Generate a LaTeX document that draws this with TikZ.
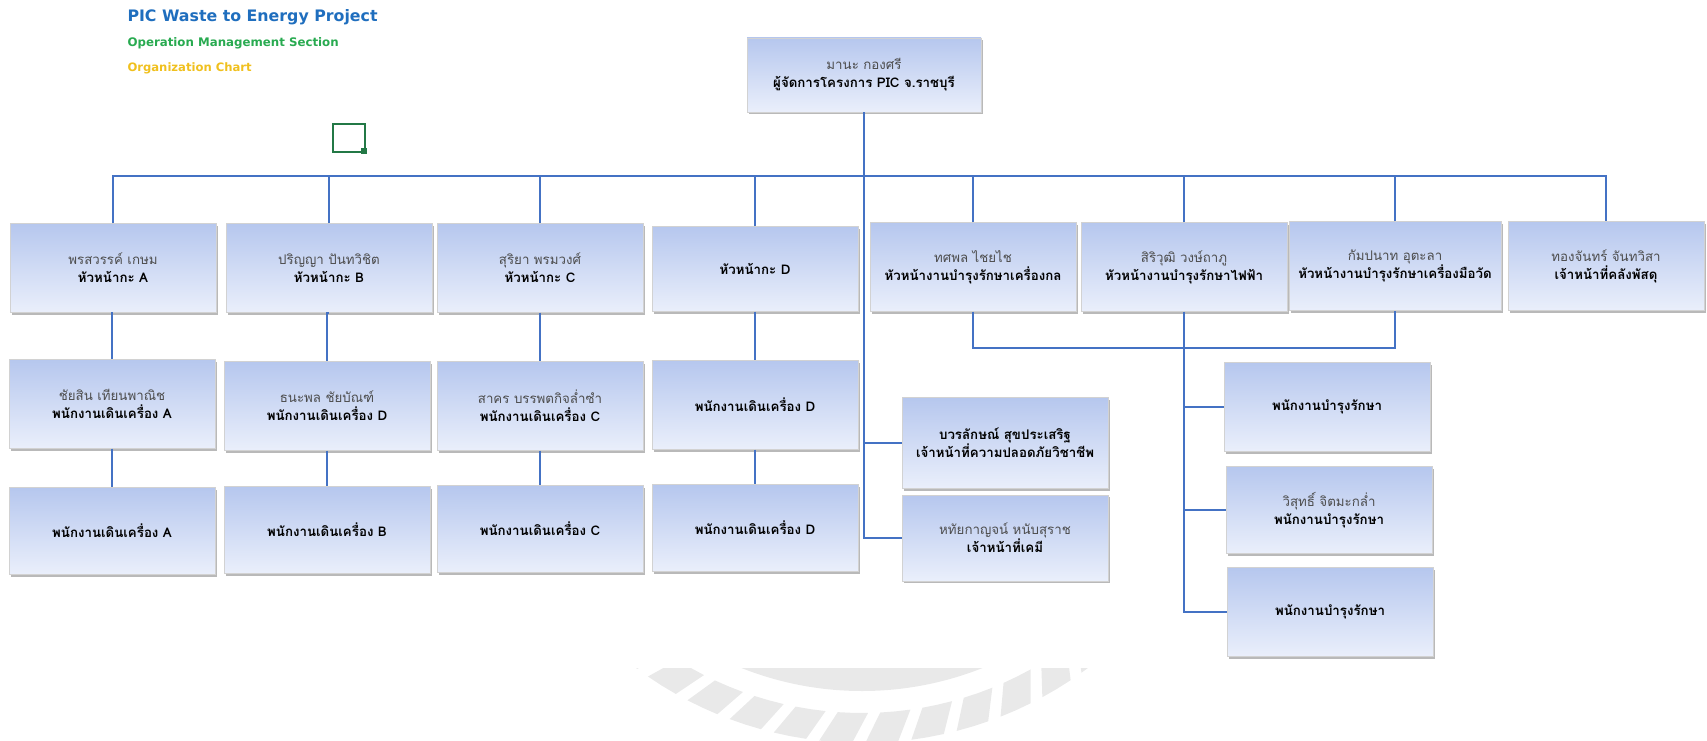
\documentclass[tikz,border=0pt]{standalone}
\usepackage{fontspec}
\setmainfont[Script=Thai]{Loma}
\newfontfamily\latinfont{DejaVu Sans}
\usetikzlibrary{shadows}
\definecolor{linkblue}{RGB}{68,114,196}
\definecolor{boxtop}{RGB}{182,199,238}
\definecolor{boxbot}{RGB}{234,239,251}
\definecolor{titleblue}{RGB}{31,110,190}
\definecolor{titlegreen}{RGB}{40,170,80}
\definecolor{titlegold}{RGB}{240,192,30}
\definecolor{markgreen}{RGB}{35,120,70}
\definecolor{wmgray}{RGB}{233,233,233}
\tikzset{
  orgbox/.style={shade, top color=boxtop, bottom color=boxbot, draw=gray!35,
    line width=0.4pt, align=center, minimum width=206pt, minimum height=89pt,
    inner sep=2pt, font=\fontsize{13.3}{18}\selectfont,
    drop shadow={shadow xshift=1.5pt, shadow yshift=-2pt, fill=gray, opacity=0.55}},
  link/.style={draw=linkblue, line width=1.6pt},
}
\newcommand{\nm}[1]{{\color{black!70}#1}}
\newcommand{\rl}[1]{{\bfseries #1}}
\begin{document}
\begin{tikzpicture}[x=1pt, y={(0pt,-1pt)}]
\useasboundingbox (0,0) rectangle (1707,741);
% watermark
\begin{scope}
  \clip (0,668) rectangle (1707,741);
  \fill[wmgray] (862,365) circle (326pt);
  \foreach \a in {51,58,...,129}{
    \fill[wmgray, shift={(862,365)}] (\a-4:348) -- (\a-1.5:348) -- (\a+1:348)
      -- (\a+3.5:378) -- (\a+1:378) -- (\a-1.5:378) -- cycle;
  }
\end{scope}
% titles
\node[anchor=west, text=titleblue, font=\latinfont\bfseries\fontsize{15.8}{18}\selectfont] (t1) at (124,17) {PIC Waste to Energy Project};
\node[anchor=west, text=titlegreen, font=\latinfont\bfseries\fontsize{11.8}{14}\selectfont] (t2) at (124,43) {Operation Management Section};
\node[anchor=west, text=titlegold, font=\latinfont\bfseries\fontsize{11.6}{14}\selectfont] (t3) at (124,68) {Organization Chart};
% small green mark
\draw[markgreen, line width=1.3pt] (333,124) rectangle (365,152);
\fill[markgreen] (361,148) rectangle (367,154);
% boxes
\node[orgbox, minimum width=234pt, minimum height=74pt] (top) at (864,75) {\nm{มานะ กองศรี}\\\rl{ผู้จัดการโครงการ PIC จ.ราชบุรี}};
\node[orgbox] (A1) at (113,268) {\nm{พรสวรรค์ เกษม}\\\rl{หัวหน้ากะ A}};
\node[orgbox] (B1) at (329,268) {\nm{ปริญญา ปันทวิชิต}\\\rl{หัวหน้ากะ B}};
\node[orgbox] (C1) at (540,268) {\nm{สุริยา พรมวงศ์}\\\rl{หัวหน้ากะ C}};
\node[orgbox, minimum height=85pt] (D1) at (755,269) {\rl{หัวหน้ากะ D}};
\node[orgbox] (E1) at (973,267) {\nm{ทศพล ไชยไช}\\\rl{หัวหน้างานบำรุงรักษาเครื่องกล}};
\node[orgbox] (F1) at (1184,267) {\nm{สิริวุฒิ วงษ์ถาภู}\\\rl{หัวหน้างานบำรุงรักษาไฟฟ้า}};
\node[orgbox, minimum width=212pt] (G1) at (1395,266) {\nm{กัมปนาท อุตะลา}\\\rl{หัวหน้างานบำรุงรักษาเครื่องมือวัด}};
\node[orgbox, minimum width=196pt] (H1) at (1606,266) {\nm{ทองจันทร์ จันทวิสา}\\\rl{เจ้าหน้าที่คลังพัสดุ}};
\node[orgbox] (A2) at (112,404) {\nm{ชัยสิน เทียนพาณิช}\\\rl{พนักงานเดินเครื่อง A}};
\node[orgbox] (B2) at (327,406) {\nm{ธนะพล ชัยบัณฑ์}\\\rl{พนักงานเดินเครื่อง D}};
\node[orgbox] (C2) at (540,406) {\nm{สาคร บรรพตกิจล่ำซำ}\\\rl{พนักงานเดินเครื่อง C}};
\node[orgbox] (D2) at (755,405) {\rl{พนักงานเดินเครื่อง D}};
\node[orgbox, minimum height=87pt] (A3) at (112,531) {\rl{พนักงานเดินเครื่อง A}};
\node[orgbox, minimum height=87pt] (B3) at (327,530) {\rl{พนักงานเดินเครื่อง B}};
\node[orgbox, minimum height=87pt] (C3) at (540,529) {\rl{พนักงานเดินเครื่อง C}};
\node[orgbox, minimum height=87pt] (D3) at (755,528) {\rl{พนักงานเดินเครื่อง D}};
\node[orgbox, minimum height=91pt] (S1) at (1005,443) {\rl{บวรลักษณ์ สุขประเสริฐ}\\\rl{เจ้าหน้าที่ความปลอดภัยวิชาชีพ}};
\node[orgbox, minimum height=86pt] (S2) at (1005,538) {\nm{หทัยกาญจน์ หนับสุราช}\\\rl{เจ้าหน้าที่เคมี}};
\node[orgbox] (M1) at (1327,407) {\rl{พนักงานบำรุงรักษา}};
\node[orgbox, minimum height=87pt] (M2) at (1329,510) {\nm{วิสุทธิ์ จิตมะกล่ำ}\\\rl{พนักงานบำรุงรักษา}};
\node[orgbox] (M3) at (1330,612) {\rl{พนักงานบำรุงรักษา}};
% connectors
\coordinate (bus) at (0,176);
\coordinate (mbus) at (0,348);
\draw[link] (A1.north) -- (A1.north |- bus) -- (H1.north |- bus) -- (H1.north);
\foreach \n in {B1,C1,D1,E1,F1,G1}{
  \draw[link] (\n.north) -- (\n.north |- bus);
}
\draw[link] (top.south) |- (S2.west);
\draw[link] (top.south |- S1.west) -- (S1.west);
\foreach \u/\d in {A1/A2,A2/A3,B1/B2,B2/B3,C1/C2,C2/C3,D1/D2,D2/D3}{
  \draw[link] (\u.south) -- (\u.south -| \d.north) -- (\d.north);
}
\draw[link] (E1.south) -- (E1.south |- mbus) -- (G1.south |- mbus) -- (G1.south);
\draw[link] (F1.south) |- (M3.west);
\draw[link] (F1.south |- M1.west) -- (M1.west);
\draw[link] (F1.south |- M2.west) -- (M2.west);
\end{tikzpicture}
\end{document}
